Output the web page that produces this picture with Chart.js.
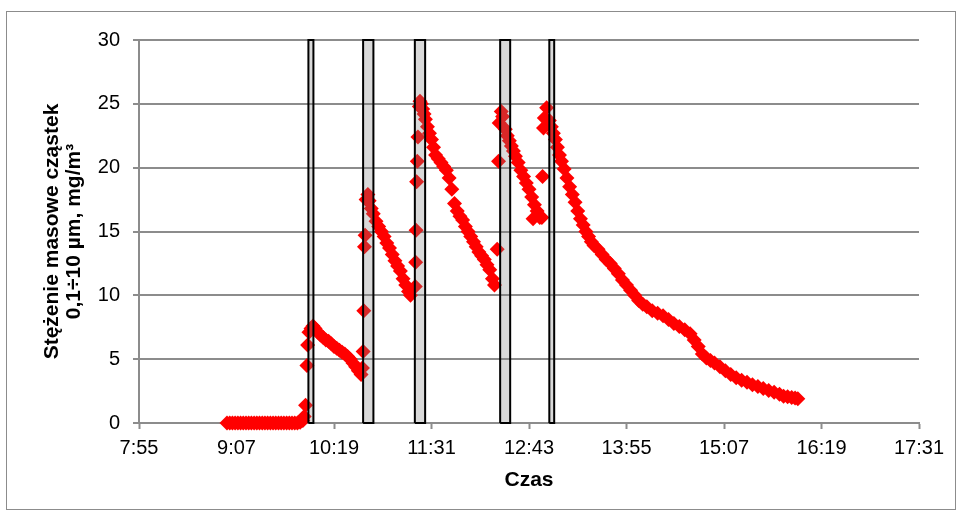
<!DOCTYPE html>
<html>
<head>
<meta charset="utf-8">
<script src="https://cdn.jsdelivr.net/npm/chart.js@4/dist/chart.umd.min.js"></script>
<style>
  body { margin: 0; background: #fff; }
  #wrap { position: relative; width: 962px; height: 520px; }
  #frame { position: absolute; left: 6px; top: 11px; width: 948px; height: 497px; border: 1px solid #8c8c8c; pointer-events: none; }
</style>
</head>
<body>
<div id="wrap">
  <canvas id="chart" width="962" height="520"></canvas>
  <div id="frame"></div>
</div>
<script>
// time in minutes after midnight, concentration in mg/m3
const czas = [
  540, 542, 544, 546, 548, 550, 552, 554, 556, 558, 560, 562, 564, 566, 568, 570, 572, 574, 576, 578, 580, 582, 584, 586, 588, 590, 592,
  594, 596, 597, 598, 599, 599.5, 600.5, 602, 603.5,
  605, 607, 609, 611, 613, 615, 617, 619, 621, 623, 625, 627, 629, 631, 633, 635, 637, 639,
  640, 640.5, 641, 641.5, 642, 642.7, 644,
  645, 646.5, 648, 650, 652, 654, 656, 658, 660, 662, 664, 666, 668, 670, 672, 674, 675.5,
  679, 679.3, 679.6, 680, 680.5, 681, 682, 682.5,
  683.5, 684.5, 685.5, 686.5, 688, 689.5, 691, 692.5, 694, 696, 698, 700, 702, 704, 706, 708, 710, 712, 714, 716, 718, 720, 722, 724, 726, 728, 730, 732, 734, 736, 737.5,
  739.5, 740.5, 741, 742.5, 743.5,
  745.5, 747, 748.5, 750, 751.5, 753, 755, 757, 759, 761, 763, 765, 766, 767, 769, 771, 772.5,
  773, 773.7, 774.3, 776,
  778, 779.5, 781, 782.5, 784, 785.5, 787, 789, 791, 793, 795, 797, 799, 801, 803, 805, 807, 809, 811, 814, 817, 820, 823, 826, 829, 832, 835, 838, 841, 844, 847, 850,
  854, 858, 862, 866, 870, 874, 878, 882, 885, 888, 891, 894, 897, 900, 904, 908, 912, 916, 920, 924, 928, 932, 936, 940, 944, 948, 951, 954, 957, 959.5, 961.5
];
const stezenie = [
  0, 0, 0, 0, 0, 0, 0, 0, 0, 0, 0, 0, 0, 0, 0, 0, 0, 0, 0, 0, 0, 0, 0, 0, 0, 0, 0,
  0.05, 0.2, 0.5, 1.4, 4.5, 6.1, 7.1, 7.4, 7.6,
  7.4, 7.1, 6.9, 6.7, 6.5, 6.4, 6.2, 6.0, 5.85, 5.7, 5.55, 5.4, 5.2, 5.0, 4.7, 4.4, 4.1, 3.8,
  4.3, 5.6, 8.8, 13.8, 14.7, 17.5, 17.9,
  17.4, 16.8, 16.4, 15.8, 15.4, 15.0, 14.6, 14.1, 13.7, 13.2, 12.7, 12.3, 11.9, 11.3, 10.8, 10.3, 10.0,
  10.7, 12.6, 15.1, 18.9, 20.5, 22.4, 24.8, 25.2,
  25.0, 24.6, 24.2, 23.8, 23.2, 22.7, 22.2, 21.6, 21.0, 20.7, 20.4, 20.1, 19.8, 19.2, 18.3, 17.2, 16.6, 16.2, 15.9, 15.4, 15.0, 14.6, 14.2, 13.8, 13.4, 13.1, 12.8, 12.4, 12.0, 11.3, 10.8,
  13.6, 20.5, 23.5, 24.4, 24.0,
  23.0, 22.5, 22.1, 21.7, 21.3, 20.9, 20.4, 19.8, 19.3, 18.8, 18.3, 17.7, 16.0, 17.1, 16.6, 16.1, 16.1,
  19.3, 23.1, 23.9, 24.7,
  23.7, 23.2, 22.7, 22.2, 21.6, 21.0, 20.5, 19.9, 19.2, 18.5, 17.9, 17.3, 16.6, 16.0, 15.5, 15.0, 14.6, 14.2, 13.9, 13.6, 13.2, 12.8, 12.5, 12.1, 11.7, 11.2, 10.8, 10.4, 10.0, 9.6, 9.3, 9.1,
  8.8, 8.6, 8.4, 8.1, 7.8, 7.55, 7.3, 7.0, 6.5, 6.0, 5.4, 5.1, 4.9, 4.7, 4.4, 4.1, 3.8, 3.55, 3.35, 3.2, 3.0, 2.85, 2.7, 2.55, 2.4, 2.25, 2.1, 2.05, 2.0, 1.95, 1.9
];

// marked intervals (minutes)
const przedzialStart = [600.1, 640.5, 678.7, 741.7, 778.0];
const przedzialKoniec = [603.8, 648.1, 686.3, 749.1, 781.6];

const xTickLabels = ['7:55', '9:07', '10:19', '11:31', '12:43', '13:55', '15:07', '16:19', '17:31'];
const yMin = 0, yMax = 30, yStep = 5;

const toMin = s => { const p = s.split(':'); return +p[0] * 60 + +p[1]; };
const fmt = v => { const h = Math.floor(v / 60), m = Math.round(v - h * 60); return h + ':' + (m < 10 ? '0' : '') + m; };
const xTickMin = xTickLabels.map(toMin);

const font = 'Liberation Sans';
const gray = '#8c8c8c';

const datasets = [{
  label: 'stezenie',
  data: czas.map((t, i) => ({ x: t, y: stezenie[i] })),
  pointStyle: 'rectRot',
  pointRadius: 7.5,
  pointBorderWidth: 0,
  backgroundColor: '#ff0000',
  order: 3,
  clip: false
}];

przedzialStart.forEach((s, i) => {
  const e = przedzialKoniec[i];
  // grey translucent fill (top edge filled down to zero)
  datasets.push({
    type: 'line',
    label: 'wypelnienie' + i,
    data: [{ x: s, y: yMax }, { x: e, y: yMax }],
    borderWidth: 0,
    borderColor: 'rgba(0,0,0,0)',
    backgroundColor: 'rgba(128,128,128,0.3)',
    fill: 'origin',
    pointRadius: 0,
    tension: 0,
    order: 2,
    clip: false
  });
  // black outline
  datasets.push({
    type: 'line',
    label: 'ramka' + i,
    data: [{ x: s, y: yMin }, { x: s, y: yMax }, { x: e, y: yMax }, { x: e, y: yMin }, { x: s, y: yMin }],
    borderColor: '#000',
    borderWidth: 2,
    fill: false,
    pointRadius: 0,
    tension: 0,
    order: 1,
    clip: false
  });
});

new Chart(document.getElementById('chart'), {
  type: 'scatter',
  data: { datasets },
  options: {
    responsive: false,
    animation: false,
    events: [],
    layout: { padding: { left: 6, right: 43, top: 40, bottom: 0 } },
    plugins: { legend: { display: false }, tooltip: { enabled: false } },
    scales: {
      x: {
        type: 'linear',
        min: xTickMin[0],
        max: xTickMin[xTickMin.length - 1],
        afterBuildTicks: s => { s.ticks = xTickMin.map(v => ({ value: v })); },
        afterFit: s => { s.height = 97; },
        ticks: { callback: v => fmt(v), color: '#000', font: { family: font, size: 20 }, padding: 7, maxRotation: 0, autoSkip: false },
        grid: { display: true, drawOnChartArea: false, tickLength: 6, tickColor: gray, tickWidth: 2 },
        border: { display: true, color: gray, width: 2 },
        title: { display: true, text: 'Czas', color: '#000', font: { family: font, size: 21, weight: 'bold', lineHeight: 1.1 }, padding: { top: 0, bottom: 28 } }
      },
      y: {
        min: yMin,
        max: yMax,
        afterFit: s => { s.width = 133; },
        ticks: { stepSize: yStep, color: '#000', font: { family: font, size: 20 }, padding: 13 },
        grid: { color: gray, lineWidth: 2, tickLength: 6, tickColor: gray, tickWidth: 2 },
        border: { display: true, color: gray, width: 2 },
        title: {
          display: true,
          text: ['Stężenie masowe cząstek', '0,1÷10 µm, mg/m³'],
          color: '#000',
          font: { family: font, size: 21, weight: 'bold', lineHeight: 1.05 },
          padding: { top: 35, bottom: 0 }
        }
      }
    }
  }
});
</script>
</body>
</html>
